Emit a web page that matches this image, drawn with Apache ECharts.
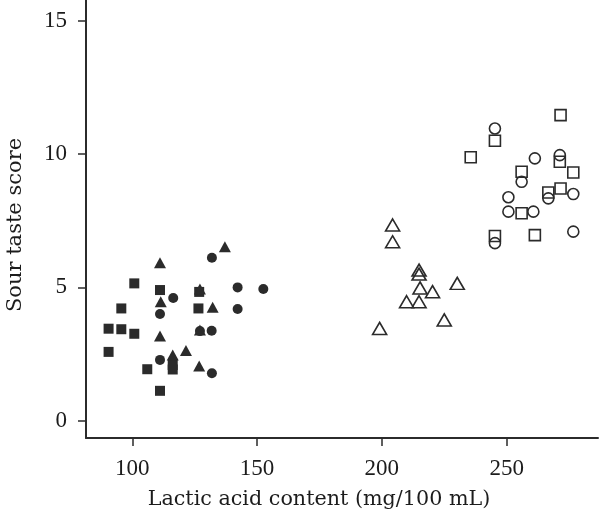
<!DOCTYPE html>
<html><head><meta charset="utf-8">
<script src="https://cdn.jsdelivr.net/npm/echarts@6/dist/echarts.min.js"></script>
<style>html,body{margin:0;padding:0;background:#fff}#c{width:600px;height:519px}</style>
</head><body><div id="c"></div>
<script>
const xTicks = [100, 150, 200, 250];
const yTicks = [0, 5, 10, 15];
const xName = 'Lactic acid content (mg/100 mL)';
const yName = 'Sour taste score';

const filledSquares = [[100.8,5.15],[111.1,4.90],[95.6,4.21],[126.5,4.21],[90.5,3.45],[95.6,3.43],[100.8,3.26],[90.5,2.58],[106.0,1.93],[116.2,2.09],[116.2,1.92],[111.1,1.12],[126.8,4.83]];
const filledCircles = [[131.9,6.11],[116.4,4.60],[142.2,5.00],[152.5,4.94],[142.2,4.19],[111.1,4.00],[131.8,3.37],[127.1,3.36],[111.1,2.28],[131.9,1.78]];
const filledTriangles = [[137.1,6.52],[111.1,5.92],[127.1,4.94],[111.4,4.46],[132.2,4.25],[127.1,3.40],[111.1,3.18],[121.5,2.63],[116.2,2.46],[126.8,2.05]];
const openTriangles = [[204.3,7.34],[204.3,6.71],[214.9,5.65],[214.9,5.50],[215.3,4.98],[220.3,4.84],[230.2,5.15],[209.9,4.46],[214.9,4.46],[225.0,3.78],[199.1,3.46]];
const openSquares = [[271.6,11.46],[245.3,10.50],[235.6,9.88],[271.3,9.71],[276.7,9.31],[256.0,9.34],[266.7,8.56],[271.6,8.71],[256.0,7.78],[261.3,6.96],[245.3,6.93]];
const openCircles = [[245.3,10.96],[271.3,9.96],[261.3,9.84],[256.0,8.96],[266.7,8.34],[250.7,8.38],[276.7,8.50],[250.7,7.84],[260.7,7.84],[276.7,7.09],[245.3,6.66]];

const ink = '#2b2b2b';
const txt = '#1c1c1c';
const tickFont = 'Liberation Serif';
const nameFont = 'DejaVu Serif';
function filled(data, symbol, size) {
  return {type:'scatter', data, symbol, symbolSize:size, itemStyle:{color:ink, opacity:1}, silent:true};
}
function open(data, symbol, size) {
  return {type:'scatter', data, symbol, symbolSize:size, itemStyle:{color:'rgba(0,0,0,0)', borderColor:ink, borderWidth:1.6, opacity:1}, silent:true};
}
const chart = echarts.init(document.getElementById('c'));
chart.setOption({
  animation:false,
  backgroundColor:'#fff',
  grid:{left:86, right:2, top:0, bottom:81, containLabel:false, outerBoundsMode:'none'},
  xAxis:{
    type:'value', min:81.45, max:286.6,
    name:xName, nameLocation:'middle', nameGap:51,
    nameTextStyle:{fontFamily:nameFont, fontSize:20.7, color:txt, padding:[0,46,0,0]},
    axisLine:{show:true, onZero:false, lineStyle:{color:ink, width:2}},
    axisTick:{show:true, length:8, customValues:xTicks, lineStyle:{color:ink, width:1.5}},
    axisLabel:{customValues:xTicks, margin:19, fontFamily:tickFont, fontSize:23, color:txt},
    splitLine:{show:false}
  },
  yAxis:{
    type:'value', min:-0.65, max:15.78,
    name:yName, nameLocation:'middle', nameGap:60, nameRotate:90,
    nameTextStyle:{fontFamily:nameFont, fontSize:21, color:txt, padding:[0,12,0,0]},
    axisLine:{show:true, onZero:false, lineStyle:{color:ink, width:2}},
    axisTick:{show:true, length:8, customValues:yTicks, lineStyle:{color:ink, width:1.5}},
    axisLabel:{customValues:yTicks, margin:19, fontFamily:tickFont, fontSize:23, color:txt},
    splitLine:{show:false}
  },
  series:[
    filled(filledSquares,'rect',10),
    filled(filledCircles,'circle',10),
    filled(filledTriangles,'triangle',[12,11]),
    open(openSquares,'rect',11),
    open(openCircles,'circle',11),
    open(openTriangles,'triangle',[14,12])
  ]
});
</script></body></html>
